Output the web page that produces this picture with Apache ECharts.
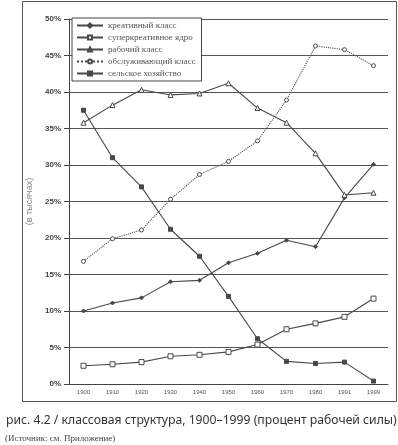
<!DOCTYPE html>
<html style="height: 100%" lang="ru">
<head>
    <meta charset="UTF-8">
    <title>классовая структура, 1900-1999</title>
    <script src="https://cdn.jsdelivr.net/npm/echarts@6/dist/echarts.min.js"></script>
</head>
<body style="height: 100%; margin: 0; background: #fff">
<div id="main" style="width: 398px; height: 445px"></div>

<script type="text/javascript">
    // годы
    var years = ['1900', '1910', '1920', '1930', '1940', '1950', '1960', '1970', '1980', '1991', '1999'];
    // доли, %
    var creative = [10.0, 11.1, 11.8, 14.0, 14.2, 16.6, 17.9, 19.7, 18.8, 25.5, 30.1];
    var superCore = [2.5, 2.7, 3.0, 3.8, 4.0, 4.4, 5.4, 7.5, 8.3, 9.2, 11.7];
    var working = [35.8, 38.2, 40.3, 39.6, 39.8, 41.2, 37.8, 35.8, 31.6, 25.9, 26.2];
    var service = [16.8, 19.9, 21.1, 25.3, 28.7, 30.5, 33.3, 38.9, 46.3, 45.8, 43.6];
    var agriculture = [37.5, 31.0, 27.0, 21.2, 17.5, 12.0, 6.2, 3.1, 2.8, 3.0, 0.4];

    var names = ['креативный класс', 'суперкреативное ядро', 'рабочий класс', 'обслуживающий класс', 'сельское хозяйство'];
    var lineColor = '#484848';

    function mkSeries(name, data, symbol, size, filled, dotted) {
        return {
            name: name,
            type: 'line',
            data: data,
            symbol: symbol,
            symbolSize: size,
            showAllSymbol: true,
            lineStyle: {color: lineColor, width: 1.1, type: dotted ? 'dotted' : 'solid'},
            itemStyle: {color: filled ? lineColor : '#fff', borderColor: lineColor, borderWidth: 1},
            emphasis: {disabled: true}
        };
    }

    var myChart = echarts.init(document.getElementById('main'));
    var option = {
        backgroundColor: '#fff',
        animation: false,
        title: [{
            text: 'рис. 4.2 / классовая структура, 1900–1999 (процент рабочей силы)',
            left: 1,
            top: 410,
            textStyle: {fontFamily: 'Noto Sans', fontSize: 12.2, fontWeight: 'normal', color: '#333'}
        }, {
            text: '(Источник: см. Приложение)',
            left: 0,
            top: 429,
            textStyle: {fontFamily: 'Liberation Serif', fontSize: 9, fontWeight: 'normal', color: '#444'}
        }],
        graphic: [{
            type: 'rect',
            shape: {x: 22.5, y: 1.5, width: 374, height: 400},
            style: {fill: 'none', stroke: '#555', lineWidth: 1},
            z: -1
        }],
        legend: {
            data: names,
            orient: 'vertical',
            left: 72,
            top: 18,
            itemWidth: 26,
            itemHeight: 5,
            itemGap: 3,
            padding: [3, 6, 3, 4],
            borderColor: '#444',
            borderWidth: 1,
            backgroundColor: '#fff',
            textStyle: {fontFamily: 'Liberation Serif', fontSize: 9, color: '#555'}
        },
        grid: {left: 69, right: 10, top: 19, bottom: 61},
        xAxis: {
            type: 'category',
            data: years,
            boundaryGap: true,
            axisLine: {lineStyle: {color: '#444'}},
            axisTick: {length: 3, lineStyle: {color: '#444'}},
            axisLabel: {fontSize: 6, color: '#555', margin: 5}
        },
        yAxis: {
            type: 'value',
            min: 0,
            max: 50,
            interval: 5,
            name: '(в тысячах)',
            nameLocation: 'middle',
            nameRotate: 90,
            nameGap: 23,
            nameTextStyle: {fontSize: 9, color: '#888'},
            axisLine: {show: true, lineStyle: {color: '#444'}},
            axisTick: {show: true, length: 5, lineStyle: {color: '#444'}},
            axisLabel: {formatter: '{value}%', fontSize: 8, fontWeight: 'bold', color: '#444', margin: 8},
            splitLine: {lineStyle: {color: '#555', width: 1}}
        },
        series: [
            mkSeries(names[0], creative, 'diamond', 4, true, false),
            mkSeries(names[1], superCore, 'rect', 5, false, false),
            mkSeries(names[2], working, 'triangle', 5, false, false),
            mkSeries(names[3], service, 'circle', 4, false, true),
            mkSeries(names[4], agriculture, 'rect', 4, true, false)
        ]
    };
    myChart.setOption(option);
</script>
</body>
</html>
